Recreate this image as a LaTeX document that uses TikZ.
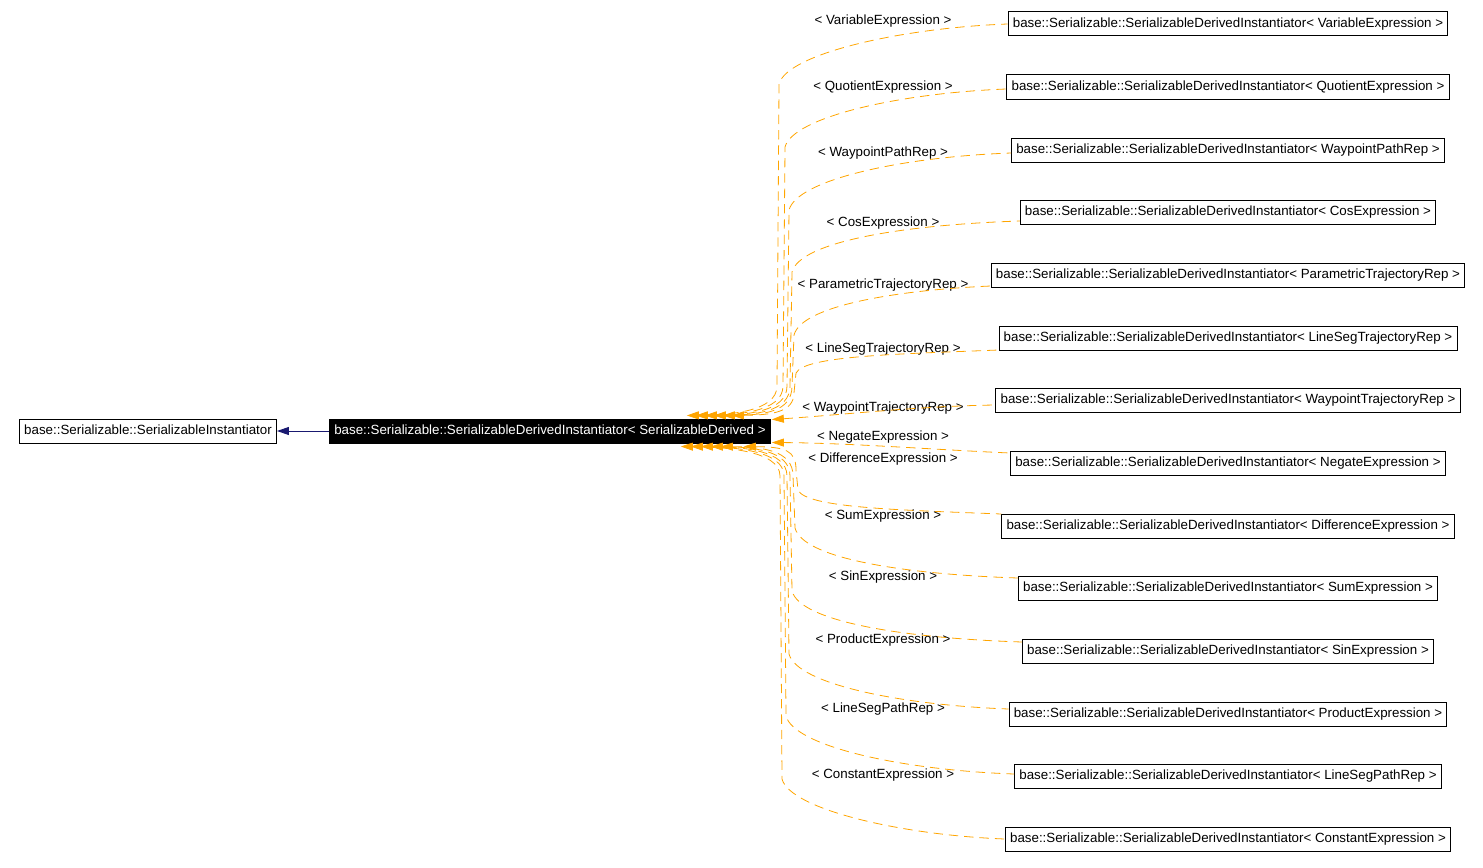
\documentclass[tikz,border=0pt]{standalone}
\usepackage{fontspec}
\setmainfont{Liberation Sans}
\usetikzlibrary{arrows.meta,calc}
\definecolor{deporange}{HTML}{FFA500}
\definecolor{inhblue}{HTML}{191970}

\begin{document}
\begin{tikzpicture}[x=0.75pt, y=-0.75pt,
  cls/.style={draw, fill=white, font=\fontsize{10}{12}\selectfont, inner xsep=3.5pt, inner ysep=0pt, text height=7.5pt, text depth=2.2pt, minimum height=18pt, line width=0.75pt},
  hubcls/.style={cls, fill=black, text=white},
  lbl/.style={font=\fontsize{10}{12}\selectfont, inner sep=0pt, text height=7.5pt, text depth=2.2pt},
  dep/.style={{Triangle[length=9pt,width=6pt]}-, draw=deporange, dash pattern=on 7pt off 4.5pt, line width=0.6pt},
  inh/.style={{Triangle[length=9pt,width=6pt]}-, draw=inhblue, line width=0.75pt}
]
\useasboundingbox (0,0) rectangle (1483,867);

\node[cls] (base) at (148,431) {base::Serializable::SerializableInstantiator};
\node[hubcls] (hub) at (550,431) {base::Serializable::SerializableDerivedInstantiator< SerializableDerived >};
\draw[inh] (base) -- (hub);

% instantiations above the hub
\foreach \n/\y/\ly/\t/\sy/\tx/\xv in {
  var/24/21/VariableExpression/0/688/777,
  quo/87/87/QuotientExpression/2/697/783,
  wpp/150/153/WaypointPathRep/3/706/787,
  cos/212/223/CosExpression/9/715/790,
  par/275/285/ParametricTrajectoryRep/11/724/792,
  lst/338/349/LineSegTrajectoryRep/12/733/794}{
  \node[cls] (\n) at (1228,\y) {base::Serializable::SerializableDerivedInstantiator< \t{} >};
  \node[lbl] (\n-l) at (883,\ly) {< \t{} >};
  \draw[dep] ($(hub.north east)+(\tx-772,-3)$) .. controls (\tx+40,415) and (\xv,412) .. (\xv,{416-min(30,0.3*(416-\y))})
    -- (\xv+2,{\y+min(60,0.45*(416-\y))}) .. controls (\xv+10,{\y+0.5*min(60,0.45*(416-\y))}) and (900,\y+\sy+4) .. ($(\n.west)+(0,\sy)$);
}

% instantiations below the hub
\foreach \n/\y/\ly/\t/\sy/\tx/\xv in {
  dif/526/459/DifferenceExpression/-12/745/796,
  sum/588/516/SumExpression/-10/722/793,
  sin/651/577/SinExpression/-9/712/790,
  prd/714/640/ProductExpression/-5/702/787,
  lsp/776/709/LineSegPathRep/-2/692/784,
  con/839/775/ConstantExpression/0/682/780}{
  \node[cls] (\n) at (1228,\y) {base::Serializable::SerializableDerivedInstantiator< \t{} >};
  \node[lbl] (\n-l) at (883,\ly) {< \t{} >};
  \draw[dep] ($(hub.south east)+(\tx-772,3)$) .. controls (\tx+40,447) and (\xv,450) .. (\xv,{446+min(30,0.3*(\y-446))})
    -- (\xv+2,{\y-min(60,0.45*(\y-446))}) .. controls (\xv+10,{\y-0.5*min(60,0.45*(\y-446))}) and (900,\y+\sy-4) .. ($(\n.west)+(0,\sy)$);
}

% the two beside the hub
\node[cls] (wtr) at (1228,400) {base::Serializable::SerializableDerivedInstantiator< WaypointTrajectoryRep >};
\node[lbl] (wtr-l) at (883,408) {< WaypointTrajectoryRep >};
\node[cls] (neg) at (1228,463) {base::Serializable::SerializableDerivedInstantiator< NegateExpression >};
\node[lbl] (neg-l) at (883,437) {< NegateExpression >};
\draw[dep] ($(hub.north east)+(1,1)$) .. controls (840,415) and (920,406) .. ($(wtr.west)+(0,5)$);
\draw[dep] ($(hub.south east)+(1,-1)$) .. controls (850,443) and (940,450) .. ($(neg.west)+(0,-10)$);
\end{tikzpicture}
\end{document}
